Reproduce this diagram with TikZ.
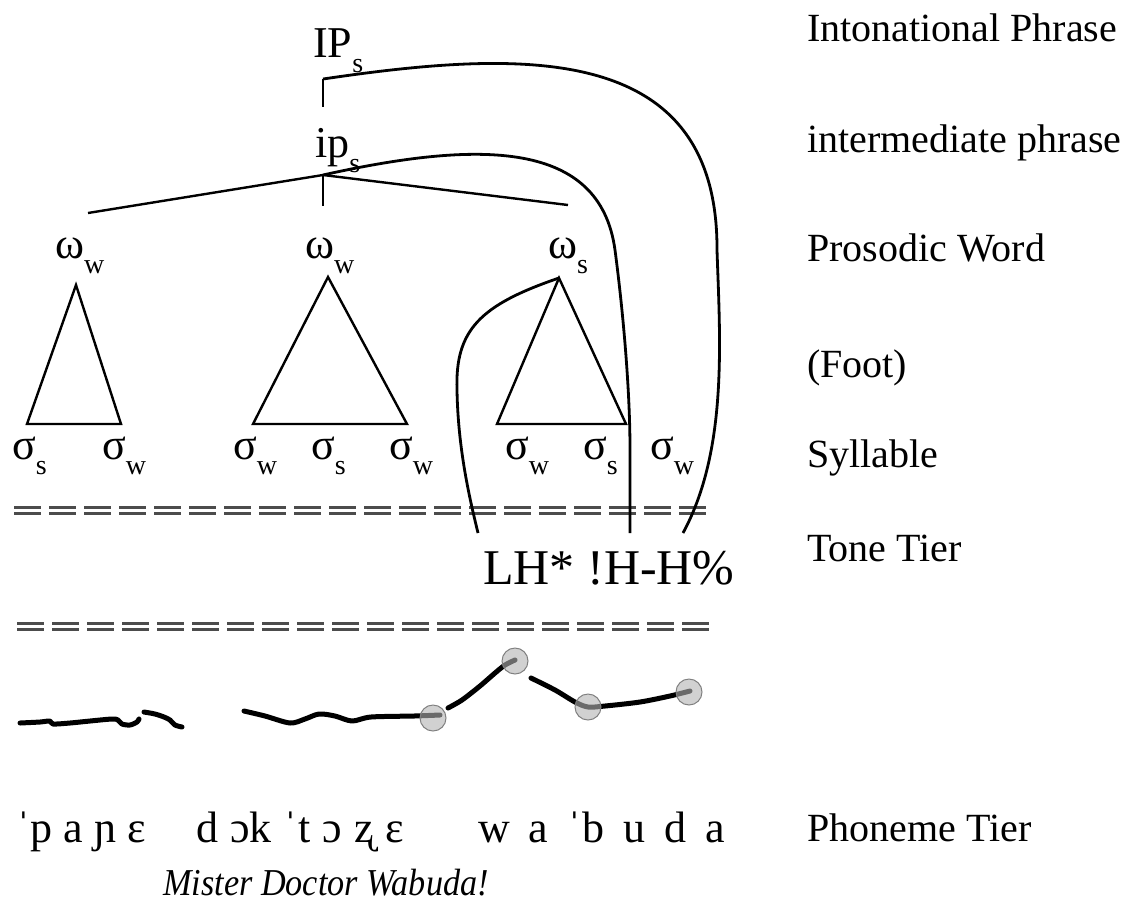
\documentclass[tikz,border=0pt]{standalone}
\usepackage{fontspec}
\setmainfont{Liberation Serif}
\newcommand{\sbs}[1]{\raisebox{-0.36em}{\fontsize{28}{28}\selectfont #1}}
\newcommand{\ga}{\hspace{11pt}}
\newcommand{\gb}{\hspace{12pt}}
\newcommand{\gc}{\hspace{19pt}}
\begin{document}
\begin{tikzpicture}[x=1pt,y=-1pt,
  lbl/.style={anchor=base west, inner sep=0pt, font=\fontsize{40}{40}\selectfont},
  tr/.style={anchor=base west, inner sep=0pt, font=\fontsize{44}{44}\selectfont},
  phn/.style={anchor=base west, inner sep=0pt, font=\fontsize{44}{44}\selectfont},
  ln/.style={line width=2.4pt, black},
  crv/.style={line width=2.8pt, black},
  eqrow/.style={line width=3pt, black!70, dash pattern=on 27pt off 8pt},
  pitch/.style={line width=5pt, line cap=round, line join=round, black},
  pdot/.style={circle, minimum size=26pt, inner sep=0pt, draw=black!50, line width=1pt, fill=black!30, fill opacity=0.6}
]
\useasboundingbox (0,0) rectangle (1121,903);
% labels
\node[lbl] (l1) at (807,41) {Intonational Phrase};
\node[lbl] (l2) at (807,152) {intermediate phrase};
\node[lbl] (l3) at (807,261) {Prosodic Word};
\node[lbl] (l4) at (807,377) {(Foot)};
\node[lbl] (l5) at (807,467) {Syllable};
\node[lbl] (l6) at (807,561) {Tone Tier};
\node[lbl] (l7) at (807,841) {Phoneme Tier};
% tree
\node[tr] (IP) at (313,57) {IP\sbs{s}};
\node[tr] (ip) at (315,157) {ip\sbs{s}};
\coordinate (IPj) at (323,79);
\coordinate (IPb) at (323,107);
\coordinate (ipj) at (323,175);
\coordinate (ipb) at (323,206);
\node[tr] (w1) at (55,258) {ω\sbs{w}};
\node[tr] (w2) at (305,258) {ω\sbs{w}};
\node[tr] (w3) at (548,258) {ω\sbs{s}};
\coordinate (w1top) at (88,213);
\coordinate (w3top) at (568,205);
\draw[ln] (IPj) -- (IPb);
\draw[ln] (w1top) -- (ipj) -- (w3top);
\draw[ln] (ipj) -- (ipb);
% feet
\coordinate (a1) at (76,285);
\coordinate (a2) at (328,277);
\coordinate (a3) at (559,278);
\draw[ln] (a1) -- (27,424) -- (121,424) -- cycle;
\draw[ln] (a2) -- (253,424) -- (407,424) -- cycle;
\draw[ln] (a3) -- (497,424) -- (626,424) -- cycle;
% syllables
\node[tr] (s1) at (12,459) {σ\sbs{s}};
\node[tr] (s2) at (102,459) {σ\sbs{w}};
\node[tr] (s3) at (233,459) {σ\sbs{w}};
\node[tr] (s4) at (311,459) {σ\sbs{s}};
\node[tr] (s5) at (389,459) {σ\sbs{w}};
\node[tr] (s6) at (505,459) {σ\sbs{w}};
\node[tr] (s7) at (583,459) {σ\sbs{s}};
\node[tr] (s8) at (650,459) {σ\sbs{w}};
% tier separators
\draw[eqrow] (14,507) -- (712,507);
\draw[eqrow] (14,513) -- (712,513);
\draw[eqrow] (17,623) -- (714,623);
\draw[eqrow] (17,629) -- (714,629);
% tones
\node[anchor=base west, inner sep=0pt, font=\fontsize{50}{50}\selectfont] (tone) at (483,584) {LH* !H-H\%};
\coordinate (tL) at (478,533);
\coordinate (tH) at (630,533);
\coordinate (tB) at (683,533);
\draw[crv] (IPj) .. controls (520,50) and (718,40) .. (717,250) .. controls (720,340) and (728,450) .. (tB);
\draw[crv] (ipj) .. controls (480,140) and (600,140) .. (615,250) .. controls (621,295) and (630,380) .. (630,450) -- (tH);
\draw[crv] (a3) .. controls (480,305) and (455,330) .. (457,390) .. controls (458,450) and (470,500) .. (tL);
% pitch track
\draw[pitch] plot[smooth] coordinates {(20,723) (40,722) (50,721) (53,724) (70,723) (90,721) (112,719) (118,720) (122,724) (130,725) (137,722) (139,719)};
\draw[pitch] plot[smooth] coordinates {(144,712) (155,714) (164,717) (170,720) (175,725) (182,727)};
\draw[pitch] plot[smooth] coordinates {(244,711) (265,716) (290,723) (305,719) (319,714) (335,716) (352,721) (371,717) (414,716) (440,715)};
\draw[pitch] plot[smooth] coordinates {(448,708) (462,700) (480,686) (495,673) (505,665) (515,660)};
\draw[pitch] plot[smooth] coordinates {(531,678) (555,690) (575,702) (588,707) (605,706) (640,702) (670,696) (690,691)};
\node[pdot] (c1) at (433,718) {};
\node[pdot] (c2) at (515,661) {};
\node[pdot] (c3) at (588,707) {};
\node[pdot] (c4) at (689,692) {};
% phonemes
\node[phn] (ph1) at (16,842) {ˈp\ga a\ga ɲ\ga ɛ};
\node[phn] (ph2) at (196,842) {d\gb ɔk\gb ˈt\gb ɔ\gb ʐ\gb ɛ};
\node[phn] (ph3) at (478,842) {w\gc a\gc ˈb\gc u\gc d\gc a};
\node[anchor=base west, inner sep=0pt, font=\fontsize{38}{38}\selectfont\itshape] (gl) at (163,895) {\scalebox{0.9}[1]{Mister Doctor Wabuda!}};
\end{tikzpicture}
\end{document}
